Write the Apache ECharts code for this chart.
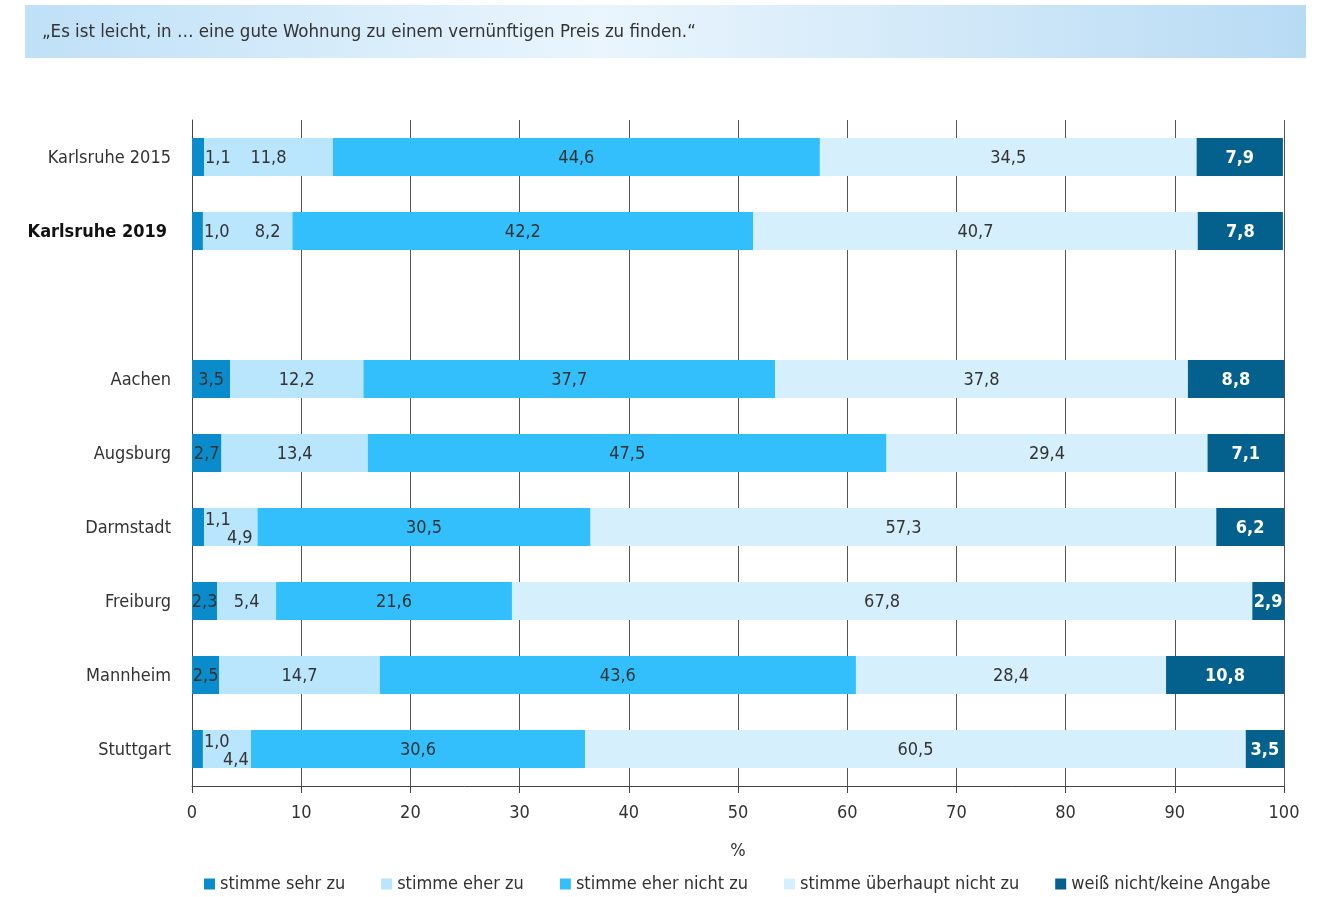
<!DOCTYPE html>
<html>
<head>
<meta charset="utf-8">
<title>Wohnung zu einem vernünftigen Preis</title>
<script src="https://cdn.jsdelivr.net/npm/echarts@6/dist/echarts.min.js"></script>
<style>
  html, body { margin: 0; padding: 0; background: #fff; }
  #chart { width: 1331px; height: 897px; }
</style>
</head>
<body>
<div id="chart"></div>
<script>
// Kategorien (leere Zeile als Abstand zwischen Karlsruhe und den Vergleichsstädten)
const cities = ['Karlsruhe 2015', 'Karlsruhe 2019', '', 'Aachen', 'Augsburg', 'Darmstadt', 'Freiburg', 'Mannheim', 'Stuttgart']
const seriesNames = ['stimme sehr zu', 'stimme eher zu', 'stimme eher nicht zu', 'stimme überhaupt nicht zu', 'weiß nicht/keine Angabe']
const sehrZu = [1.1, 1.0, null, 3.5, 2.7, 1.1, 2.3, 2.5, 1.0]
const eherZu = [11.8, 8.2, null, 12.2, 13.4, 4.9, 5.4, 14.7, 4.4]
const eherNichtZu = [44.6, 42.2, null, 37.7, 47.5, 30.5, 21.6, 43.6, 30.6]
const ueberhauptNicht = [34.5, 40.7, null, 37.8, 29.4, 57.3, 67.8, 28.4, 60.5]
const weissNicht = [7.9, 7.8, null, 8.8, 7.1, 6.2, 2.9, 10.8, 3.5]
const xTicks = [0, 10, 20, 30, 40, 50, 60, 70, 80, 90, 100]
const colors = ['#0a8bcb', '#b9e6fc', '#32bffb', '#d5effc', '#04618e']

const FONT = "'Liberation Sans Narrow', 'DejaVu Sans Condensed', sans-serif"
const FS = 18
const fmt = v => v.toFixed(1).replace('.', ',')

// Beschriftungen kleiner Segmente etwas versetzen, damit sie sich nicht überlappen
function buildData(values, idx) {
  return values.map((v, i) => {
    if (v == null) return null
    const item = { value: v }
    const first = sehrZu[i]
    if (idx === 0 && v < 2) {
      item.label = { position: 'right', distance: 1, offset: eherZu[i] < 6 ? [0, -7] : [0, 1] }
    }
    if (idx === 1 && first < 2) {
      item.label = { offset: v < 6 ? [9, 11] : (v < 10 ? [20, 1] : [0, 1]) }
    }
    return item
  })
}

const chart = echarts.init(document.getElementById('chart'))

const allValues = [sehrZu, eherZu, eherNichtZu, ueberhauptNicht, weissNicht]

const option = {
  animation: false,
  textStyle: { fontFamily: FONT },
  graphic: [
    {
      type: 'rect',
      shape: { x: 25, y: 5, width: 1281, height: 53 },
      style: {
        fill: new echarts.graphic.LinearGradient(0, 0, 1, 0, [
          { offset: 0, color: '#bfe0f7' },
          { offset: 0.45, color: '#eaf5fd' },
          { offset: 1, color: '#b8dbf4' }
        ])
      },
      silent: true
    },
    {
      type: 'text',
      left: 42,
      top: 23,
      style: {
        text: '„Es ist leicht, in … eine gute Wohnung zu einem vernünftigen Preis zu finden.“',
        font: '18.5px ' + FONT,
        fill: '#333'
      },
      silent: true
    }
  ],
  legend: {
    left: 204,
    top: 875,
    padding: 0,
    itemWidth: 11,
    itemHeight: 11,
    itemGap: 36,
    icon: 'rect',
    textStyle: { fontSize: FS, color: '#333', fontFamily: FONT },
    data: seriesNames
  },
  grid: { left: 192, right: 47, top: 120, bottom: 111, containLabel: false },
  xAxis: {
    type: 'value',
    min: 0,
    max: 100,
    interval: 10,
    name: '%',
    nameLocation: 'middle',
    nameGap: 56,
    nameTextStyle: { fontSize: FS, color: '#333', fontFamily: FONT },
    axisLine: { show: true, lineStyle: { color: '#444', width: 1 } },
    axisTick: { show: true, length: 7, lineStyle: { color: '#444' } },
    axisLabel: {
      margin: 18,
      fontSize: FS,
      color: '#333',
      fontFamily: FONT,
      formatter: v => (xTicks.includes(v) ? String(v) : '')
    },
    splitLine: { show: true, lineStyle: { color: '#555', width: 1 } }
  },
  yAxis: {
    type: 'category',
    inverse: true,
    data: cities,
    axisLine: { show: true, lineStyle: { color: '#444', width: 1 } },
    axisTick: { show: false },
    axisLabel: {
      margin: 21,
      fontSize: FS,
      color: '#333',
      fontFamily: FONT,
      padding: [2, 0, 0, 0],
      formatter: v => (v === 'Karlsruhe 2019' ? '{b|' + v + '}' : v),
      rich: {
        b: { fontWeight: 'bold', fontSize: FS, color: '#111', fontFamily: FONT, padding: [0, 4, 0, 0] }
      }
    }
  },
  series: seriesNames.map((name, idx) => ({
    name: name,
    type: 'bar',
    stack: 'total',
    barWidth: 38,
    itemStyle: { color: colors[idx] },
    label: {
      show: true,
      position: 'inside',
      offset: [0, 1],
      fontSize: FS,
      fontFamily: FONT,
      color: idx === 4 ? '#fff' : '#333',
      fontWeight: idx === 4 ? 'bold' : 'normal',
      formatter: p => fmt(p.value)
    },
    data: buildData(allValues[idx], idx)
  }))
}

chart.setOption(option)
</script>
</body>
</html>
